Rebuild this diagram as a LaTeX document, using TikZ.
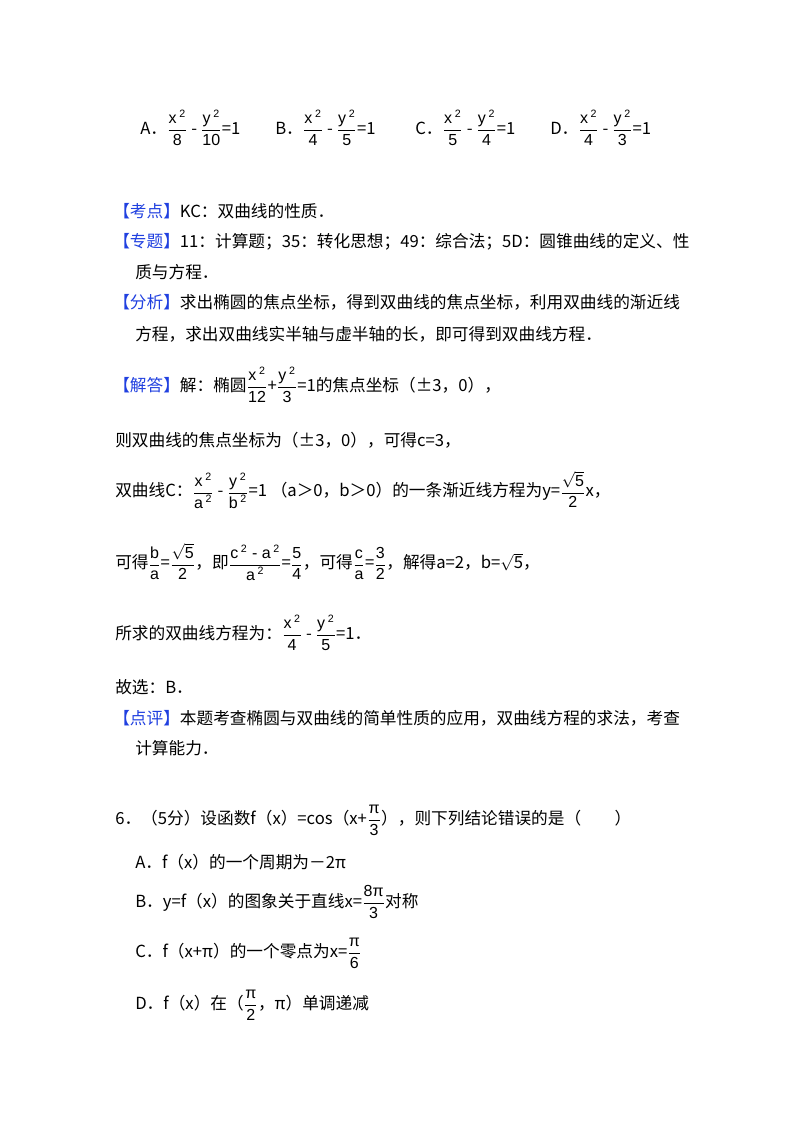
\documentclass[tikz,border=0pt]{standalone}
\usepackage{fontspec}
\usepackage{amsmath}
\setmainfont{Noto Sans CJK SC}
\newfontfamily\frf{Liberation Sans}
\definecolor{lbl}{HTML}{2040E0}
\newcommand{\fr}[2]{$\dfrac{\hbox{\frf\fontsize{12}{13}\selectfont #1}}{\hbox{\frf\fontsize{12}{13}\selectfont #2}}$}
\newcommand{\lb}[1]{\textcolor{lbl}{【#1】}}
\newcommand{\sq}[1]{$\sqrt{\hbox{#1}}$}
\newcommand{\su}{\,\textsuperscript{2}}
\begin{document}
\begin{tikzpicture}[x=0.75pt,y=-0.75pt,every node/.style={anchor=west,inner sep=0pt,font=\fontsize{12.5}{15}\selectfont}]
\fill[white] (0,0) rectangle (800,1132);
\node (oa) at (140,128) {A．\fr{x\su}{8} - \fr{y\su}{10}=1};
\node (ob) at (275,128) {B．\fr{x\su}{4} - \fr{y\su}{5}=1};
\node (oc) at (415,128) {C．\fr{x\su}{5} - \fr{y\su}{4}=1};
\node (od) at (550,128) {D．\fr{x\su}{4} - \fr{y\su}{3}=1};
\node (kd) at (113,211) {\lb{考点}KC：双曲线的性质．};
\node (zt) at (113,242) {\lb{专题}11：计算题；35：转化思想；49：综合法；5D：圆锥曲线的定义、性};
\node (zt2) at (135,272) {质与方程．};
\node (fx) at (113,302) {\lb{分析}求出椭圆的焦点坐标，得到双曲线的焦点坐标，利用双曲线的渐近线};
\node (fx2) at (135,334) {方程，求出双曲线实半轴与虚半轴的长，即可得到双曲线方程．};
\node (jd) at (113,385) {\lb{解答}解：椭圆\fr{x\su}{12}+\fr{y\su}{3}=1的焦点坐标（±3，0），};
\node (l1) at (115,440) {则双曲线的焦点坐标为（±3，0），可得c=3，};
\node (l2) at (115,490) {双曲线C：\fr{x\su}{a\su} - \fr{y\su}{b\su}=1 （a＞0，b＞0）的一条渐近线方程为y=\fr{\sq{5}}{2}x，};
\node (l3) at (115,562) {可得\fr{b}{a}=\fr{\sq{5}}{2}，即\fr{c\su{} - a\su}{a\su}=\fr{5}{4}，可得\fr{c}{a}=\fr{3}{2}，解得a=2，b=\sq{5}，};
\node (l4) at (115,633) {所求的双曲线方程为：\fr{x\su}{4} - \fr{y\su}{5}=1．};
\node (l5) at (115,687) {故选：B．};
\node (dp) at (113,718) {\lb{点评}本题考查椭圆与双曲线的简单性质的应用，双曲线方程的求法，考查};
\node (dp2) at (135,748) {计算能力．};
\node (q6) at (115,820) {6．（5分）设函数f（x）=cos（x+\fr{π}{3}），则下列结论错误的是（　　）};
\node (qa) at (135,862) {A．f（x）的一个周期为－2π};
\node (qb) at (135,902) {B．y=f（x）的图象关于直线x=\fr{8π}{3}对称};
\node (qc) at (135,953) {C．f（x+π）的一个零点为x=\fr{π}{6}};
\node (qd) at (135,1005) {D．f（x）在（\fr{π}{2}，π）单调递减};
\end{tikzpicture}
\end{document}
